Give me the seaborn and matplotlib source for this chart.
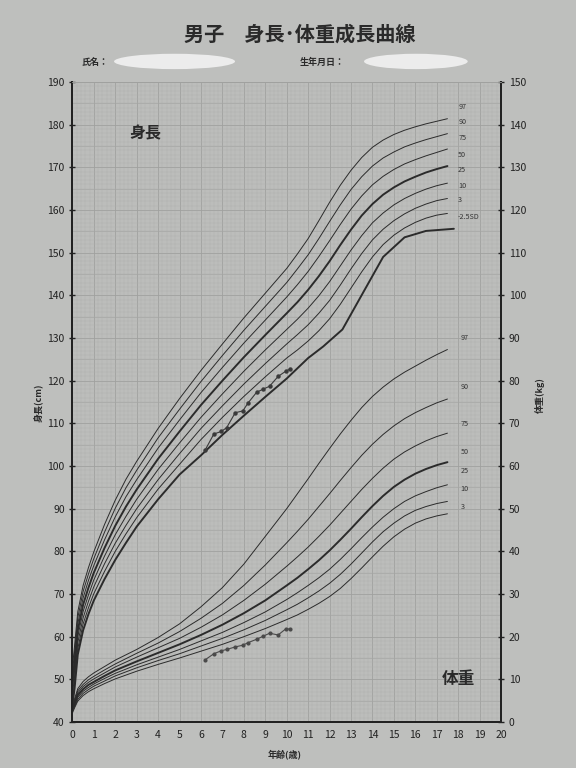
import numpy as np
import pandas as pd
import matplotlib
matplotlib.use('Agg')
import matplotlib.pyplot as plt
from matplotlib.ticker import MultipleLocator
from matplotlib.patches import Ellipse
import seaborn as sns

sns.set_theme(style='white')
plt.rcParams['font.family'] = ['Noto Sans CJK JP', 'DejaVu Sans']

# ---------------- data ----------------
h_ages = [0, 0.1, 0.25, 0.5, 0.75, 1, 1.5, 2, 2.5, 3, 4, 5, 6, 7, 8, 9,
          10, 10.5, 11, 11.5, 12, 12.5, 13, 13.5, 14, 14.5, 15, 15.5, 16, 16.5, 17, 17.5]
h_p3  = [45.2, 49.2, 57.2, 63.0, 66.8, 70.1, 75.3, 80.0, 84.1, 87.9, 94.6, 100.4, 106.2, 111.4, 116.3, 120.9,
         125.3, 127.2, 129.3, 131.7, 134.5, 137.9, 141.7, 145.5, 149.0, 151.9, 154.1, 155.8, 157.1, 158.1, 158.8, 159.2]
h_p10 = [46.4, 50.6, 58.6, 64.4, 68.3, 71.7, 77.1, 81.9, 86.1, 90.0, 96.8, 102.9, 108.8, 114.1, 119.2, 124.0,
         128.6, 130.8, 133.1, 135.8, 138.8, 142.4, 146.2, 149.8, 153.0, 155.5, 157.5, 159.1, 160.4, 161.4, 162.2, 162.7]
h_p25 = [47.7, 52.0, 60.0, 65.9, 69.8, 73.3, 78.9, 83.9, 88.2, 92.2, 99.2, 105.4, 111.4, 116.9, 122.2, 127.2,
         132.0, 134.4, 137.0, 139.9, 143.2, 146.9, 150.6, 154.0, 157.0, 159.3, 161.2, 162.7, 163.9, 164.9, 165.7, 166.3]
h_p50 = [49.0, 53.5, 61.5, 67.5, 71.5, 75.0, 80.8, 86.0, 90.5, 94.5, 101.7, 108.1, 114.3, 120.0, 125.5, 130.7,
         135.8, 138.4, 141.3, 144.5, 148.0, 151.8, 155.4, 158.7, 161.4, 163.6, 165.3, 166.7, 167.8, 168.8, 169.6, 170.3]
h_p75 = [50.3, 55.0, 63.0, 69.1, 73.2, 76.7, 82.7, 88.1, 92.8, 96.8, 104.2, 110.8, 117.2, 123.1, 128.8, 134.2,
         139.6, 142.5, 145.6, 149.1, 152.8, 156.6, 160.2, 163.3, 165.9, 167.9, 169.5, 170.8, 171.8, 172.7, 173.5, 174.3]
h_p90 = [51.6, 56.4, 64.4, 70.6, 74.7, 78.3, 84.5, 90.1, 94.9, 99.0, 106.6, 113.3, 119.8, 125.9, 131.8, 137.4,
         143.0, 146.2, 149.5, 153.3, 157.3, 161.2, 164.8, 167.8, 170.3, 172.2, 173.6, 174.8, 175.7, 176.5, 177.2, 177.9]
h_p97 = [52.8, 57.8, 65.8, 72.0, 76.2, 79.9, 86.3, 92.0, 96.9, 101.1, 108.8, 115.8, 122.4, 128.6, 134.7, 140.5,
         146.3, 149.7, 153.3, 157.5, 161.8, 165.8, 169.3, 172.3, 174.7, 176.4, 177.7, 178.7, 179.5, 180.2, 180.8, 181.4]

sd_ages = [0, 0.1, 0.25, 0.5, 0.75, 1, 1.5, 2, 2.5, 3, 4, 5, 6, 7, 8, 9, 10, 11, 11.7, 12.6, 13.56, 14.5, 15.5, 16.5, 17.8]
h_sd25 = [44.0, 47.8, 55.8, 61.5, 65.3, 68.5, 73.5, 78.0, 82.0, 85.8, 92.2, 98.0, 102.5, 107.3, 111.8, 116.2,
          120.5, 125.3, 128.0, 132.0, 140.6, 149.0, 153.6, 155.1, 155.6]

w_ages = [0, 0.1, 0.25, 0.5, 0.75, 1, 1.5, 2, 3, 4, 5, 6, 7, 8, 9,
          10, 10.5, 11, 11.5, 12, 12.5, 13, 13.5, 14, 14.5, 15, 15.5, 16, 16.5, 17, 17.5]
w_p3  = [2.1, 3.3, 4.9, 6.2, 7.1, 7.8, 9.0, 10.1, 11.9, 13.5, 15.0, 16.6, 18.2, 20.0, 21.9,
         24.0, 25.1, 26.4, 27.8, 29.4, 31.3, 33.6, 36.1, 38.7, 41.2, 43.4, 45.2, 46.6, 47.6, 48.3, 48.8]
w_p10 = [2.45, 3.6, 5.3, 6.7, 7.6, 8.4, 9.6, 10.8, 12.7, 14.4, 16.0, 17.8, 19.6, 21.6, 23.8,
         26.3, 27.6, 29.1, 30.7, 32.5, 34.6, 37.0, 39.6, 42.2, 44.6, 46.6, 48.3, 49.6, 50.5, 51.2, 51.7]
w_p25 = [2.75, 3.9, 5.8, 7.2, 8.1, 8.9, 10.2, 11.4, 13.4, 15.2, 17.0, 19.0, 21.0, 23.3, 25.8,
         28.7, 30.3, 32.0, 33.8, 35.8, 38.1, 40.6, 43.2, 45.7, 48.0, 50.0, 51.7, 53.0, 54.0, 54.9, 55.6]
w_p50 = [3.0, 4.3, 6.3, 7.7, 8.7, 9.4, 10.8, 12.1, 14.2, 16.2, 18.2, 20.4, 22.8, 25.5, 28.5,
         32.0, 33.8, 35.8, 37.9, 40.2, 42.7, 45.3, 48.0, 50.6, 53.0, 55.1, 56.8, 58.2, 59.3, 60.2, 60.9]
w_p75 = [3.3, 4.7, 6.8, 8.3, 9.3, 10.1, 11.5, 12.9, 15.2, 17.4, 19.6, 22.2, 25.1, 28.5, 32.3,
         36.5, 38.7, 41.0, 43.5, 46.1, 48.9, 51.7, 54.5, 57.1, 59.5, 61.6, 63.3, 64.7, 65.9, 66.9, 67.7]
w_p90 = [3.6, 5.0, 7.3, 8.8, 9.9, 10.7, 12.2, 13.6, 16.1, 18.5, 21.2, 24.3, 27.8, 32.0, 36.8,
         42.0, 44.7, 47.5, 50.5, 53.5, 56.6, 59.6, 62.5, 65.1, 67.4, 69.4, 71.1, 72.5, 73.7, 74.8, 75.7]
w_p97 = [3.9, 5.4, 7.8, 9.5, 10.6, 11.5, 13.0, 14.5, 17.0, 19.8, 23.0, 27.0, 31.5, 37.0, 43.5,
         50.0, 53.5, 57.0, 60.6, 64.1, 67.5, 70.7, 73.7, 76.3, 78.5, 80.4, 82.0, 83.4, 84.8, 86.1, 87.3]

pt_ages   = [6.2, 6.6, 6.95, 7.2, 7.6, 7.95, 8.2, 8.6, 8.9, 9.2, 9.6, 9.95, 10.15]
pt_height = [103.8, 107.5, 108.1, 109.0, 112.5, 112.9, 114.8, 117.3, 118.0, 118.7, 121.0, 122.2, 122.7]
pt_weight = [14.6, 16.0, 16.7, 17.0, 17.6, 18.0, 18.6, 19.4, 20.1, 20.8, 20.4, 21.8, 21.8]

h_labels = ['97', '90', '75', '50', '25', '10', '3', '-2.5SD']
h_label_y = [184.1, 180.6, 176.9, 172.9, 169.4, 165.6, 162.3, 158.4]
w_labels = ['97', '90', '75', '50', '25', '10', '3']
w_label_y = [90.0, 78.5, 69.8, 63.3, 58.8, 54.6, 50.4]

x_ticks = list(range(0, 21))
h_ticks = list(range(40, 191, 10))
w_ticks = list(range(0, 151, 10))

# ---------------- figure ----------------
BG = '#bebfbd'
INK = '#2b2b2b'
fig = plt.figure(figsize=(5.76, 7.68), dpi=100, facecolor=BG)
ax = fig.add_axes([0.1257, 0.0599, 0.7441, 0.8333])
ax.set_facecolor('#bcbdbb')
ax2 = ax.twinx()

ax.set_xlim(0, 20)
ax.set_ylim(40, 190)
ax2.set_ylim(0, 150)

# grid (graph paper)
ax.xaxis.set_minor_locator(MultipleLocator(0.2))
ax.yaxis.set_minor_locator(MultipleLocator(1))
ax.grid(which='minor', color='#b0b1af', lw=0.35)
ax.set_xticks(x_ticks)
ax.set_yticks(h_ticks)
ax.grid(which='major', color='#a0a19f', lw=0.6)
for v in range(45, 190, 10):
    ax.axhline(v, color='#a6a7a5', lw=0.5, zorder=0.5)
ax.set_axisbelow(True)

# height curves
for vals, lw in [(h_p3, 0.7), (h_p10, 0.7), (h_p25, 0.7), (h_p50, 1.4),
                 (h_p75, 0.7), (h_p90, 0.7), (h_p97, 0.7)]:
    sns.lineplot(x=h_ages, y=vals, ax=ax, color=INK, lw=lw, estimator=None, sort=False)
sns.lineplot(x=sd_ages, y=h_sd25, ax=ax, color=INK, lw=1.4, estimator=None, sort=False)

# weight curves
for vals, lw in [(w_p3, 0.7), (w_p10, 0.7), (w_p25, 0.7), (w_p50, 1.4),
                 (w_p75, 0.7), (w_p90, 0.7), (w_p97, 0.7)]:
    sns.lineplot(x=w_ages, y=vals, ax=ax2, color=INK, lw=lw, estimator=None, sort=False)

# patient measurements
sns.lineplot(x=pt_ages, y=pt_height, ax=ax, color='#3a3a3a', lw=0.8, marker='o',
             markersize=3.2, markeredgewidth=0, estimator=None, sort=False)
sns.lineplot(x=pt_ages, y=pt_weight, ax=ax2, color='#4a4a4a', lw=0.8, marker='o',
             markersize=3.0, markeredgewidth=0, estimator=None, sort=False)

# percentile labels
for t, y in zip(h_labels, h_label_y):
    ax.text(18.0, y, t, fontsize=5.2, color='#333333', ha='left', va='center')
for t, y in zip(w_labels, w_label_y):
    ax2.text(18.1, y, t, fontsize=5.2, color='#333333', ha='left', va='center')

ax.text(3.4, 178.0, '身長', fontsize=11.5, fontweight='bold', color='#2a2a2a', ha='center', va='center')
ax2.text(18.0, 10, '体重', fontsize=12, fontweight='bold', color='#2a2a2a', ha='center', va='center')

# axes styling
for s in ['left', 'right', 'bottom']:
    for a in (ax, ax2):
        a.spines[s].set_color('#222222')
        a.spines[s].set_linewidth(1.4)
for a in (ax, ax2):
    a.spines['top'].set_color('#a0a19f')
    a.spines['top'].set_linewidth(0.6)

ax.tick_params(axis='both', which='major', direction='inout', length=5, width=1,
               color='#222222', labelsize=7.5, labelcolor='#222222', pad=3)
ax.tick_params(axis='both', which='minor', length=0)
ax2.set_yticks(w_ticks)
ax2.tick_params(axis='y', which='major', direction='inout', length=5, width=1,
                color='#222222', labelsize=7.5, labelcolor='#222222', pad=3)
ax2.grid(False)
ax.set_xlabel('')
ax.set_ylabel('')
ax2.set_ylabel('')

# texts
fig.text(0.521, 0.955, '男子　身長･体重成長曲線', fontsize=14.5, fontweight='bold',
         color='#2a2a2a', ha='center', va='center')
fig.text(0.142, 0.919, '氏名：', fontsize=6.5, fontweight='bold', color='#2a2a2a',
         ha='left', va='center')
fig.text(0.52, 0.919, '生年月日：', fontsize=6.5, fontweight='bold', color='#2a2a2a',
         ha='left', va='center')
fig.patches.append(Ellipse((0.303, 0.920), 0.21, 0.020, transform=fig.transFigure,
                           facecolor='#ececec', edgecolor='none'))
fig.patches.append(Ellipse((0.722, 0.920), 0.18, 0.020, transform=fig.transFigure,
                           facecolor='#ececec', edgecolor='none'))
fig.text(0.068, 0.475, '身長(cm)', fontsize=6.5, fontweight='bold', color='#2a2a2a',
         rotation=90, ha='center', va='center')
fig.text(0.938, 0.486, '体重(kg)', fontsize=6.5, fontweight='bold', color='#2a2a2a',
         rotation=90, ha='center', va='center')
fig.text(0.495, 0.018, '年齢(歳)', fontsize=6.5, fontweight='bold', color='#2a2a2a',
         ha='center', va='center')

fig.savefig('out.png', dpi=100, facecolor=BG)
